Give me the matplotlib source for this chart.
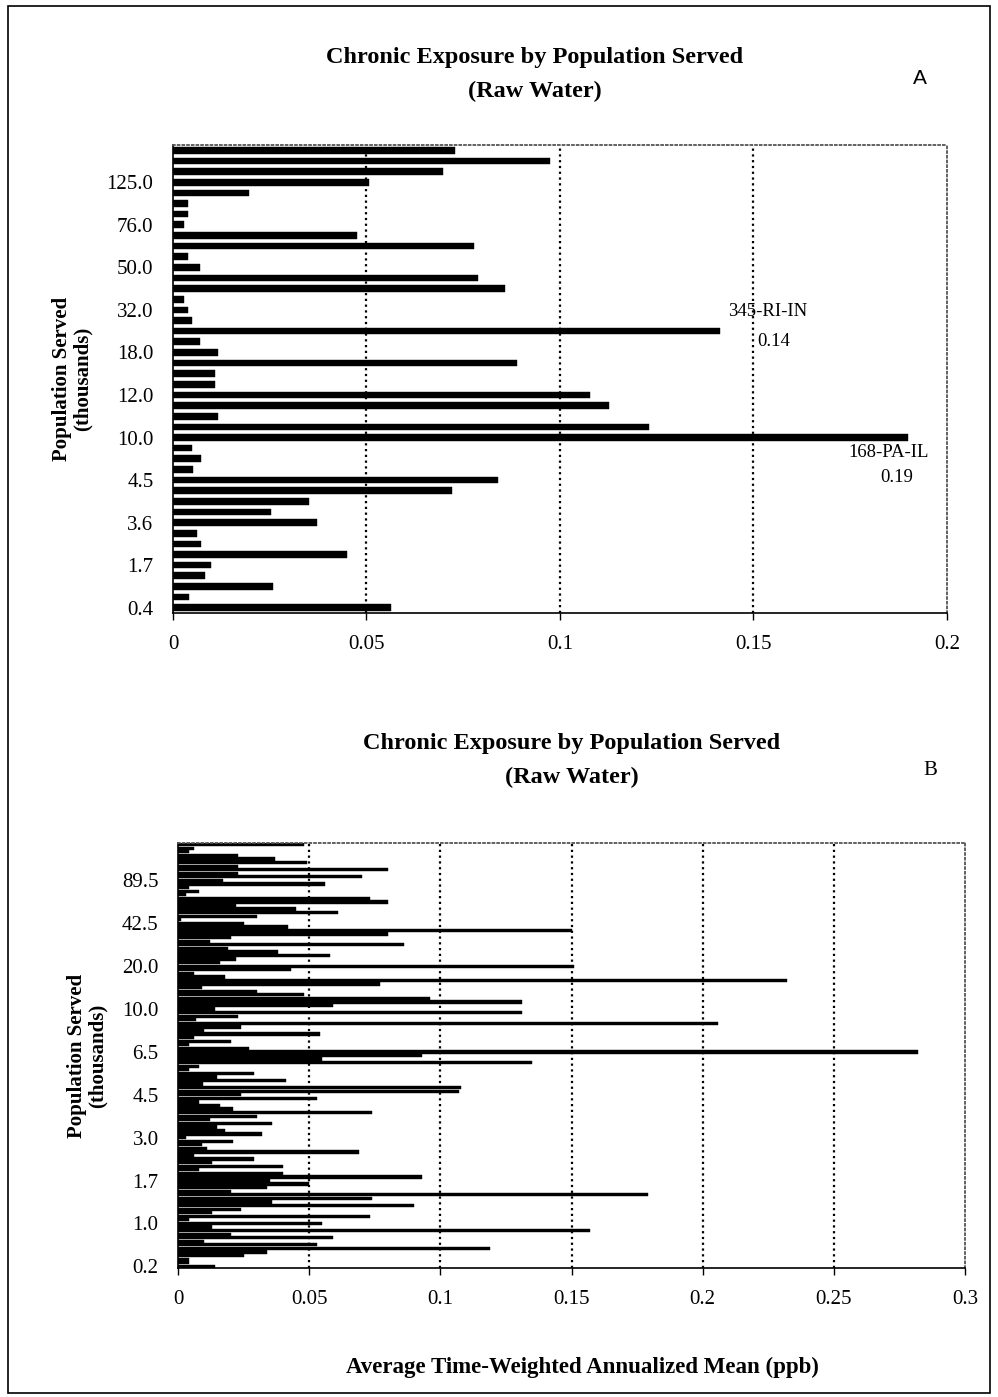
import matplotlib
matplotlib.use("Agg")
import matplotlib.pyplot as plt
import numpy as np
from matplotlib.patches import Rectangle

SERIF = ["Liberation Serif", "DejaVu Serif"]
SANS = ["Liberation Sans", "DejaVu Sans"]

# Panel A: mean exposure per system, read top to bottom
a_values = [
    0.0729, 0.0974, 0.0698, 0.0507, 0.0197, 0.0038, 0.0038, 0.0028, 0.0476, 0.0778,
    0.0038, 0.0070, 0.0788, 0.0858, 0.0028, 0.0040, 0.0050, 0.1413, 0.0070, 0.0117,
    0.0889, 0.0109, 0.0109, 0.1078, 0.1127, 0.0117, 0.1230, 0.1900, 0.0050, 0.0072,
    0.0051, 0.0840, 0.0721, 0.0351, 0.0253, 0.0372, 0.0061, 0.0072, 0.0449, 0.0098,
    0.0083, 0.0258, 0.0041, 0.0563,
]
# tick labels every 4th category, bottom to top
a_ticklabels = ["0.4", "1.7", "3.6", "4.5", "10.0", "12.0", "18.0", "32.0", "50.0", "76.0", "125.0"]

# Panel B: mean exposure per system, read top to bottom
b_values = [
    0.048, 0.006, 0.004, 0.023, 0.037, 0.049, 0.023, 0.080, 0.023, 0.070,
    0.017, 0.056, 0.004, 0.008, 0.003, 0.073, 0.080, 0.022, 0.045, 0.061,
    0.030, 0.001, 0.025, 0.042, 0.150, 0.080, 0.020, 0.012, 0.086, 0.019,
    0.038, 0.058, 0.022, 0.016, 0.151, 0.043, 0.006, 0.018, 0.232, 0.077,
    0.009, 0.030, 0.048, 0.096, 0.131, 0.059, 0.014, 0.131, 0.023, 0.007,
    0.206, 0.024, 0.010, 0.054, 0.006, 0.020, 0.004, 0.027, 0.282, 0.093,
    0.055, 0.135, 0.008, 0.004, 0.029, 0.015, 0.041, 0.0095, 0.108, 0.107,
    0.024, 0.053, 0.008, 0.016, 0.021, 0.074, 0.030, 0.012, 0.036, 0.015,
    0.018, 0.032, 0.003, 0.021, 0.009, 0.011, 0.069, 0.006, 0.029, 0.013,
    0.040, 0.008, 0.040, 0.093, 0.035, 0.050, 0.034, 0.020, 0.179, 0.074,
    0.036, 0.090, 0.024, 0.013, 0.073, 0.004, 0.055, 0.013, 0.157, 0.020,
    0.059, 0.010, 0.053, 0.119, 0.034, 0.025, 0.004, 0.004, 0.014,
]
b_ticklabels = ["0.2", "1.0", "1.7", "3.0", "4.5", "6.5", "10.0", "20.0", "42.5", "89.5"]

a_xticks = [0, 0.05, 0.1, 0.15, 0.2]
b_xticks = [0, 0.05, 0.1, 0.15, 0.2, 0.25, 0.3]

DOT = (0, (1.0, 1.6))


def style_panel(ax, values, ticklabels, step, xticks, bar_h):
    vals = values[::-1]
    n = len(vals)
    pos = np.arange(n)
    ax.barh(pos, vals, height=bar_h, color="black", edgecolor="black", linewidth=0.3)
    ax.set_ylim(-0.5, n - 0.5)
    ax.set_xlim(xticks[0], xticks[-1])
    ax.set_yticks(pos[::step][:len(ticklabels)])
    ax.set_yticklabels(ticklabels, fontsize=15, family=SERIF)
    ax.set_xticks(xticks)
    ax.set_xticklabels([("%g" % t) for t in xticks], fontsize=15, family=SERIF)
    ax.tick_params(axis="y", length=0, pad=14)
    ax.tick_params(axis="x", length=5, width=1, direction="out", pad=11)
    for x in xticks[1:-1]:
        ax.axvline(x, color="black", lw=1.6, ls=DOT, zorder=0)
    ax.spines["left"].set_linewidth(1.2)
    ax.spines["bottom"].set_linewidth(1.2)
    for s in ["top", "right"]:
        ax.spines[s].set_linestyle(DOT)
        ax.spines[s].set_linewidth(1.3)
        ax.spines[s].set_color("#555555")


def main():
    fig = plt.figure(figsize=(9.98, 13.97), dpi=100, facecolor="white")

    # Panel A
    axA = fig.add_axes([0.1733, 0.5612, 0.7756, 0.3350])
    style_panel(axA, a_values, a_ticklabels, 4, a_xticks, 0.62)
    axA.text(0.1434, 27.8, "345-RI-IN", fontsize=13.5, family=SERIF, va="center", ha="left")
    axA.text(0.1509, 25.0, "0.14", fontsize=13.5, family=SERIF, va="center", ha="left")
    axA.text(0.1744, 14.6, "168-PA-IL", fontsize=13.5, family=SERIF, va="center", ha="left")
    axA.text(0.1827, 12.2, "0.19", fontsize=13.5, family=SERIF, va="center", ha="left")
    axA.set_ylabel("Population Served\n(thousands)", fontsize=15, family=SERIF,
                   fontweight="bold", labelpad=10, linespacing=1.05)

    fig.text(0.536, 1 - 57 / 1397, "Chronic Exposure by Population Served", ha="center", va="center",
             fontsize=17.5, family=SERIF, fontweight="bold")
    fig.text(0.536, 1 - 91 / 1397, "(Raw Water)", ha="center", va="center",
             fontsize=17.5, family=SERIF, fontweight="bold")
    fig.text(920 / 998, 1 - 78 / 1397, "A", ha="center", va="center", fontsize=15, family=SANS)

    # Panel B
    axB = fig.add_axes([0.1784, 0.0923, 0.7886, 0.3043])
    style_panel(axB, b_values, b_ticklabels, 12, b_xticks, 0.9)
    axB.set_ylabel("Population Served\n(thousands)", fontsize=15, family=SERIF,
                   fontweight="bold", labelpad=10, linespacing=1.05)

    fig.text(572 / 998, 1 - 743 / 1397, "Chronic Exposure by Population Served", ha="center", va="center",
             fontsize=17.5, family=SERIF, fontweight="bold")
    fig.text(572 / 998, 1 - 777 / 1397, "(Raw Water)", ha="center", va="center",
             fontsize=17.5, family=SERIF, fontweight="bold")
    fig.text(930 / 998, 1 - 771 / 1397, "B", ha="center", va="center", fontsize=15, family=SERIF)
    fig.text(582 / 998, 1 - 1367 / 1397, "Average Time-Weighted Annualized Mean (ppb)", ha="center",
             va="center", fontsize=16.5, family=SERIF, fontweight="bold")

    # page frame
    fig.patches.append(Rectangle((0.008, 0.003), 0.984, 0.993, transform=fig.transFigure,
                                 fill=False, ec="black", lw=1.2))

    fig.savefig("out.png", dpi=100, facecolor="white")


if __name__ == "__main__":
    main()
